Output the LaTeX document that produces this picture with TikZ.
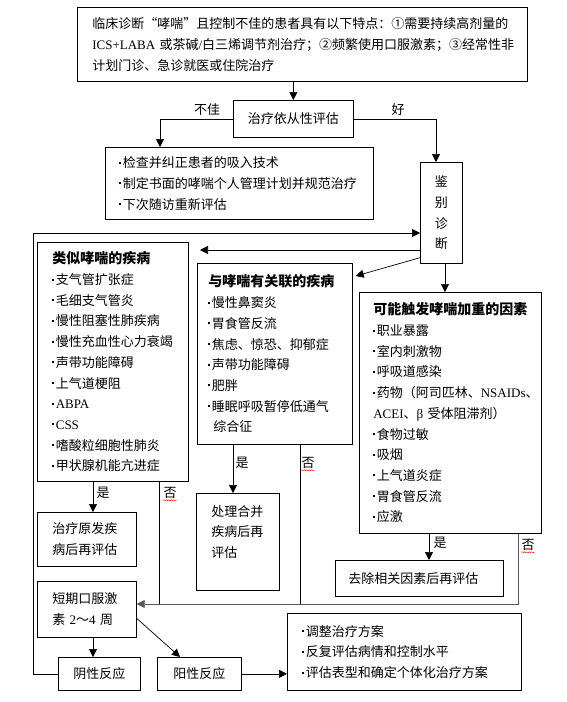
\documentclass[tikz,border=0pt]{standalone}
\usepackage{fontspec}
\setmainfont{Noto Sans CJK SC}
\newfontfamily\lat{Liberation Serif}
\usetikzlibrary{arrows.meta,calc,decorations.pathmorphing}
\newcommand{\bu}{\raisebox{4pt}{\rule{2pt}{2pt}}\kern1.5pt}
\newcommand{\ttlfont}{\fontsize{14}{20.7}\selectfont\bfseries}
\begin{document}
\begin{tikzpicture}[x=1pt,y=-1pt,
  bx/.style={draw, line width=0.7pt, inner ysep=0pt, anchor=north west,
    font=\fontsize{13}{20.7}\selectfont},
  lst/.style={bx, align=left},
  arr/.style={line width=0.7pt, -{Triangle[length=8pt,width=8pt]}},
  ln/.style={line width=0.7pt},
  lbl/.style={font=\fontsize{13}{15}\selectfont, inner sep=0pt},
  wavy/.style={red, line width=0.4pt, decorate,
    decoration={snake, amplitude=0.6pt, segment length=2.4pt}}]
\fill[white] (0,0) rectangle (566,702);
\useasboundingbox (0,0) rectangle (566,702);

% boxes
\node[lst, minimum width=450pt, minimum height=74pt, text width=420pt, inner xsep=15pt] (top) at (77,7)
 {临床诊断“哮喘”且控制不佳的患者具有以下特点：①需要持续高剂量的\\
  {\lat ICS+LABA} 或茶碱{\lat /}白三烯调节剂治疗；②频繁使用口服激素；③经常性非\\
  计划门诊、急诊就医或住院治疗};
\node[bx, minimum width=120pt, minimum height=37pt, align=center] (comp) at (233,100) {治疗依从性评估};
\node[lst, minimum width=268pt, minimum height=72pt, text width=240pt, inner xsep=14pt] (chk) at (105,147)
 {\bu 检查并纠正患者的吸入技术\\ \bu 制定书面的哮喘个人管理计划并规范治疗\\ \bu 下次随访重新评估};
\node[bx, minimum width=42pt, minimum height=101pt, align=center, inner xsep=0pt] (jb) at (420,162) {鉴\\别\\诊\\断};
\node[lst, minimum width=151pt, minimum height=239pt, text width=121pt, inner xsep=15pt] (sim) at (37,242)
 {{\ttlfont 类似哮喘的疾病}\\ \bu 支气管扩张症\\ \bu 毛细支气管炎\\ \bu 慢性阻塞性肺疾病\\ \bu 慢性充血性心力衰竭\\
  \bu 声带功能障碍\\ \bu 上气道梗阻\\ \bu {\lat ABPA}\\ \bu {\lat CSS}\\ \bu 嗜酸粒细胞性肺炎\\ \bu 甲状腺机能亢进症};
\node[lst, minimum width=155pt, minimum height=181pt, text width=133pt, inner xsep=11pt] (assoc) at (197,263)
 {{\ttlfont 与哮喘有关联的疾病}\\ \bu 慢性鼻窦炎\\ \bu 胃食管反流\\ \bu 焦虑、惊恐、抑郁症\\ \bu 声带功能障碍\\
  \bu 肥胖\\ \bu 睡眠呼吸暂停低通气\\ \hspace*{5pt}综合征};
\node[lst, minimum width=182pt, minimum height=241pt, text width=154pt, inner xsep=14pt] (trig) at (359,292)
 {{\ttlfont 可能触发哮喘加重的因素}\\ \bu 职业暴露\\ \bu 室内刺激物\\ \bu 呼吸道感染\\
  \mbox{\bu 药物（阿司匹林、{\lat NSAIDs}、}\\ \mbox{{\lat ACEI}、{\lat β }受体阻滞剂）}\\ \bu 食物过敏\\ \bu 吸烟\\
  \bu 上气道炎症\\ \bu 胃食管反流\\ \bu 应激};
\node[lst, minimum width=99pt, minimum height=54pt, text width=69pt, inner xsep=15pt] (treat) at (37,512)
 {治疗原发疾\\病后再评估};
\node[lst, minimum width=83pt, minimum height=97pt, text width=53pt, inner xsep=15pt] (proc) at (196,493)
 {处理合并\\疾病后再\\评估\\ \mbox{}};
\node[lst, minimum width=168pt, minimum height=36pt, text width=142pt, inner xsep=13pt] (rem) at (335,560)
 {去除相关因素后再评估};
\node[lst, minimum width=99pt, minimum height=56pt, text width=69pt, inner xsep=15pt] (short) at (37,581)
 {短期口服激\\素 {\lat 2}～{\lat 4} 周};
\node[lst, minimum width=234pt, minimum height=77pt, text width=204pt, inner xsep=15pt] (adj) at (287,613)
 {\bu 调整治疗方案\\ \bu 反复评估病情和控制水平\\ \bu 评估表型和确定个体化治疗方案};
\node[bx, minimum width=82pt, minimum height=33pt, align=center] (neg) at (58,657) {阴性反应};
\node[bx, minimum width=84pt, minimum height=33pt, align=center] (pos) at (157,657) {阳性反应};

% labels
\node[lbl] (lbad) at (207,110) {不佳};
\node[lbl] (lgood) at (398,110) {好};
\node[lbl] (y1) at (103,493) {是};
\node[lbl] (n1) at (170,493) {否};
\node[lbl] (y2) at (242,463) {是};
\node[lbl] (n2) at (308,463) {否};
\node[lbl] (y3) at (440,543) {是};
\node[lbl] (n3) at (528,545) {否};
\foreach \n in {n1,n2,n3}
  \draw[wavy] ($(\n.south west)+(0,1.5)$) -- ($(\n.south east)+(0,1.5)$);

% helper coordinates
\coordinate (loopC) at (33,233);
\coordinate (simTip) at (200,250);
\coordinate (chkX) at (160,0);
\coordinate (jbX) at (436,0);
\coordinate (trigX) at (445,0);
\coordinate (join) at (518,604);
\coordinate (x93) at (93,0);
\coordinate (x159) at (159,0);
\coordinate (x233) at (233,0);
\coordinate (x300) at (300,0);
\coordinate (x429) at (429,0);

% connectors
\draw[arr] (top.south -| comp.north) -- (comp.north);
\draw[arr] (comp.west) -| (chk.north -| chkX);
\draw[arr] (comp.east) -| (jb.north -| jbX);
\draw[arr] (neg.west) -| (loopC) -- (loopC -| jb.west);
\draw[arr] (jb.west |- simTip) -- (simTip);
\draw[arr] ($(jb.south west)+(0,-6)$) -- ($(assoc.north east)+(3,13)$);
\draw[arr] (jb.south -| trigX) -- (trig.north -| trigX);
\draw[arr] (sim.south -| x93) -- (treat.north -| x93);
\draw[ln] (sim.south -| x159) -- (join -| x159);
\draw[arr] (assoc.south -| x233) -- (proc.north -| x233);
\draw[ln] (assoc.south -| x300) -- (join -| x300);
\draw[arr] (trig.south -| x429) -- (rem.north -| x429);
\draw[arr, black!65] (trig.south -| join) -- (join) -- (join -| short.east);
\draw[arr] (short.south -| x93) -- (neg.north -| x93);
\draw[arr] ($(short.east)+(0,9)$) -- ($(pos.north west)+(23,0)$);
\draw[arr] (pos.east) -- (pos.east -| adj.west);
\end{tikzpicture}
\end{document}
